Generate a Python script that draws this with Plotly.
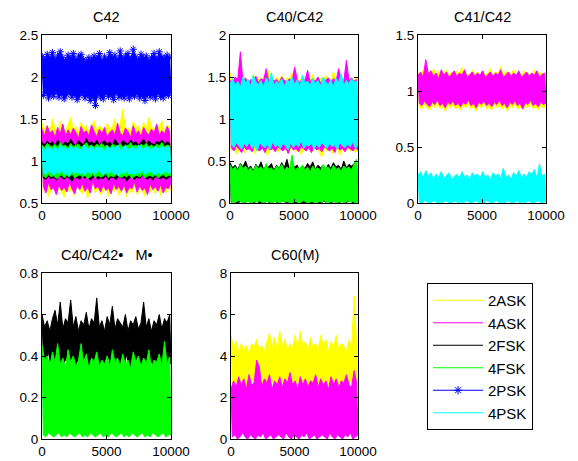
import numpy as np
import plotly.graph_objects as go

# ---------------- data (envelope peaks / troughs) ----------------
series_names = ["2ASK", "4ASK", "2FSK", "4FSK", "2PSK", "4PSK"]
x_max = 10000
x_ticks = [0, 5000, 10000]
x_tick_labels = ["0", "5000", "10000"]
titles = ["C42", "C40/C42", "C41/C42", "C40/C42•   M•", "C60(M)"]

# C42
c42_2ask_hi = [1.45,1.38,1.42,1.35,1.50,1.40,1.33,1.47,1.39,1.36,1.44,1.52,1.37,1.41,1.34,1.46,1.38,1.43,1.35,1.40,1.48,1.36,1.42,1.39,1.33,1.45,1.37,1.41,1.50,1.36,1.44,1.62,1.38,1.40,1.35,1.47,1.39,1.42,1.34,1.46,1.37,1.52,1.41,1.36,1.44,1.39,1.48,1.35,1.43,1.40]
c42_2ask_lo = [0.62,0.70,0.58,0.66,0.73,0.60,0.68,0.64,0.57,0.71,0.63,0.67,0.59,0.72,0.65,0.61,0.69,0.56,0.66,0.74,0.62,0.68,0.60,0.64,0.70,0.58,0.67,0.63,0.71,0.59,0.65,0.69,0.57,0.66,0.62,0.72,0.60,0.68,0.64,0.58,0.70,0.63,0.67,0.61,0.73,0.59,0.66,0.62,0.69,0.64]
c42_4ask_hi = [1.38,1.30,1.42,1.33,1.36,1.28,1.40,1.32,1.44,1.29,1.37,1.31,1.39,1.34,1.27,1.41,1.33,1.36,1.30,1.43,1.35,1.29,1.38,1.32,1.40,1.28,1.34,1.37,1.31,1.45,1.33,1.30,1.39,1.35,1.28,1.42,1.32,1.36,1.29,1.40,1.34,1.31,1.38,1.33,1.44,1.30,1.36,1.32,1.41,1.35]
c42_4ask_lo = [0.70,0.62,0.74,0.66,0.68,0.60,0.72,0.65,0.69,0.63,0.75,0.67,0.61,0.71,0.66,0.73,0.64,0.69,0.62,0.76,0.67,0.70,0.63,0.72,0.65,0.68,0.61,0.74,0.66,0.70,0.64,0.72,0.62,0.69,0.67,0.75,0.63,0.71,0.65,0.68,0.60,0.73,0.66,0.70,0.64,0.72,0.62,0.69,0.67,0.74]
c42_2fsk_hi = [1.22,1.19,1.24,1.20,1.23,1.18,1.25,1.21,1.19,1.23,1.20,1.26,1.21,1.18,1.24,1.22,1.19,1.27,1.21,1.23,1.20,1.25,1.19,1.22,1.24,1.20,1.23,1.18,1.26,1.21,1.19,1.24,1.22,1.20,1.25,1.21,1.23,1.19,1.22,1.26,1.20,1.24,1.21,1.19,1.23,1.22,1.25,1.20,1.23,1.21]
c42_2fsk_lo = [0.80,0.78,0.82,0.79,0.81,0.77,0.83,0.80,0.78,0.82,0.79,0.76,0.81,0.80,0.78,0.83,0.79,0.81,0.77,0.80,0.82,0.78,0.80,0.79,0.83,0.77,0.81,0.80,0.78,0.82,0.79,0.81,0.76,0.80,0.82,0.78,0.81,0.79,0.83,0.80,0.78,0.81,0.77,0.82,0.80,0.79,0.81,0.78,0.80,0.82]
c42_4fsk_hi = [1.19,1.16,1.21,1.18,1.17,1.20,1.16,1.22,1.18,1.19,1.15,1.21,1.17,1.19,1.20,1.16,1.18,1.22,1.17,1.19,1.16,1.20,1.18,1.21,1.17,1.19,1.15,1.20,1.18,1.17,1.21,1.16,1.19,1.18,1.22,1.17,1.19,1.16,1.20,1.18,1.21,1.17,1.19,1.16,1.20,1.18,1.22,1.17,1.19,1.18]
c42_4fsk_lo = [0.82,0.80,0.84,0.81,0.83,0.79,0.82,0.84,0.80,0.83,0.81,0.85,0.80,0.82,0.84,0.81,0.83,0.79,0.82,0.84,0.80,0.83,0.81,0.82,0.85,0.80,0.83,0.81,0.84,0.82,0.80,0.83,0.81,0.84,0.79,0.82,0.83,0.81,0.84,0.80,0.82,0.83,0.81,0.85,0.80,0.82,0.84,0.81,0.83,0.82]
c42_2psk_hi = [2.24,2.20,2.27,2.22,2.29,2.21,2.25,2.30,2.23,2.19,2.26,2.22,2.28,2.20,2.24,2.27,2.21,2.18,2.23,2.20,2.25,2.22,2.28,2.19,2.24,2.21,2.29,2.23,2.26,2.20,2.31,2.22,2.25,2.28,2.21,2.33,2.24,2.20,2.27,2.22,2.25,2.19,2.23,2.28,2.21,2.30,2.24,2.22,2.26,2.23]
c42_2psk_lo = [1.78,1.82,1.75,1.80,1.77,1.83,1.76,1.81,1.74,1.79,1.82,1.76,1.80,1.73,1.78,1.81,1.75,1.79,1.72,1.77,1.66,1.80,1.76,1.74,1.81,1.77,1.79,1.73,1.82,1.76,1.78,1.75,1.80,1.74,1.79,1.77,1.81,1.75,1.78,1.72,1.80,1.76,1.79,1.74,1.81,1.77,1.75,1.80,1.78,1.82]
c42_4psk_hi = [1.16,1.13,1.18,1.15,1.14,1.17,1.12,1.19,1.15,1.16,1.13,1.18,1.14,1.17,1.15,1.13,1.19,1.16,1.14,1.18,1.13,1.17,1.15,1.16,1.12,1.18,1.14,1.17,1.15,1.19,1.13,1.16,1.18,1.14,1.15,1.17,1.13,1.19,1.16,1.14,1.18,1.15,1.13,1.17,1.16,1.14,1.18,1.15,1.17,1.16]
c42_4psk_lo = [0.86,0.84,0.88,0.85,0.83,0.87,0.85,0.89,0.84,0.86,0.82,0.88,0.85,0.87,0.84,0.86,0.83,0.88,0.85,0.87,0.84,0.89,0.86,0.83,0.87,0.85,0.88,0.84,0.86,0.82,0.87,0.85,0.88,0.84,0.86,0.83,0.87,0.85,0.89,0.84,0.86,0.88,0.85,0.83,0.87,0.84,0.86,0.88,0.85,0.86]

# C40/C42
c40_2ask_hi = [1.55,1.45,1.50,1.42,1.48,1.52,1.44,1.47,1.41,1.53,1.46,1.49,1.43,1.51,1.45,1.58,1.48,1.44,1.50,1.46,1.52,1.43,1.49,1.47,1.55,1.42,1.48,1.45,1.51,1.44,1.50,1.47,1.53,1.43,1.46,1.49,1.45,1.52,1.48,1.44,1.57,1.46,1.50,1.43,1.48,1.51,1.45,1.49,1.47,1.50]
c40_2ask_lo = [0.62,0.66,0.58,0.64,0.68,0.60,0.65,0.63,0.67,0.59,0.64,0.62,0.66,0.61,0.57,0.65,0.63,0.68,0.60,0.64,0.62,0.66,0.59,0.63,0.67,0.61,0.65,0.58,0.64,0.62,0.66,0.60,0.63,0.67,0.61,0.55,0.64,0.62,0.66,0.59,0.63,0.65,0.57,0.64,0.61,0.66,0.62,0.64,0.60,0.63]
c40_4ask_hi = [1.46,1.43,1.50,1.47,1.80,1.44,1.49,1.42,1.47,1.45,1.51,1.43,1.48,1.46,1.60,1.44,1.49,1.45,1.47,1.43,1.50,1.46,1.44,1.48,1.45,1.62,1.47,1.43,1.49,1.46,1.58,1.44,1.48,1.45,1.50,1.43,1.47,1.46,1.49,1.44,1.48,1.45,1.60,1.47,1.44,1.70,1.46,1.49,1.45,1.47]
c40_4ask_lo = [0.66,0.62,0.68,0.64,0.60,0.67,0.63,0.65,0.61,0.69,0.64,0.62,0.66,0.60,0.68,0.63,0.65,0.61,0.67,0.64,0.62,0.66,0.59,0.68,0.63,0.65,0.61,0.67,0.64,0.62,0.66,0.60,0.68,0.63,0.65,0.61,0.67,0.64,0.62,0.66,0.60,0.68,0.63,0.65,0.61,0.67,0.64,0.62,0.66,0.63]
c40_2fsk_hi = [0.48,0.42,0.45,0.40,0.47,0.43,0.50,0.41,0.44,0.38,0.46,0.42,0.49,0.40,0.44,0.43,0.47,0.39,0.45,0.41,0.48,0.42,0.52,0.40,0.46,0.43,0.45,0.38,0.44,0.41,0.47,0.43,0.49,0.40,0.45,0.42,0.44,0.39,0.46,0.41,0.48,0.43,0.45,0.40,0.50,0.42,0.46,0.44,0.47,0.45]
c40_2fsk_lo = [0.01,0.02,0.00,0.01,0.02,0.00,0.01,0.03,0.00,0.01,0.02,0.00,0.01,0.01,0.02,0.00,0.01,0.02,0.00,0.01,0.03,0.00,0.01,0.02,0.01,0.00,0.02,0.01,0.00,0.01,0.02,0.00,0.01,0.03,0.00,0.01,0.02,0.00,0.01,0.01,0.02,0.00,0.01,0.02,0.00,0.01,0.03,0.00,0.01,0.02]
c40_4fsk_hi = [0.45,0.40,0.43,0.38,0.46,0.41,0.44,0.39,0.42,0.37,0.45,0.41,0.43,0.39,0.47,0.40,0.42,0.38,0.44,0.41,0.46,0.39,0.43,0.40,0.57,0.38,0.42,0.41,0.45,0.39,0.43,0.37,0.44,0.40,0.42,0.38,0.46,0.41,0.43,0.39,0.45,0.40,0.42,0.38,0.44,0.41,0.43,0.39,0.47,0.52]
c40_4fsk_lo = [0.02,0.00,0.01,0.03,0.01,0.00,0.02,0.01,0.00,0.02,0.01,0.03,0.00,0.01,0.02,0.01,0.00,0.02,0.01,0.00,0.03,0.01,0.02,0.00,0.01,0.02,0.00,0.01,0.03,0.01,0.00,0.02,0.01,0.00,0.02,0.01,0.03,0.00,0.01,0.02,0.01,0.00,0.02,0.01,0.00,0.03,0.01,0.02,0.00,0.01]
c40_4psk_hi = [1.42,1.48,1.40,1.45,1.38,1.50,1.43,1.47,1.39,1.52,1.44,1.41,1.46,1.38,1.49,1.43,1.55,1.40,1.45,1.42,1.48,1.39,1.46,1.44,1.50,1.41,1.47,1.38,1.52,1.43,1.45,1.40,1.48,1.42,1.46,1.39,1.50,1.44,1.41,1.47,1.38,1.49,1.43,1.54,1.40,1.46,1.42,1.48,1.44,1.45]
c40_4psk_lo = [0.70,0.66,0.72,0.68,0.64,0.71,0.67,0.73,0.65,0.69,0.62,0.72,0.68,0.66,0.70,0.64,0.73,0.67,0.69,0.65,0.71,0.68,0.63,0.72,0.66,0.70,0.67,0.74,0.65,0.69,0.68,0.71,0.64,0.70,0.66,0.72,0.68,0.65,0.71,0.67,0.69,0.64,0.72,0.68,0.66,0.70,0.67,0.73,0.65,0.69]

# C41/C42
c41_2ask_hi = [1.16,1.12,1.19,1.14,1.17,1.13,1.20,1.15,1.18,1.12,1.16,1.19,1.14,1.17,1.13,1.18,1.15,1.21,1.14,1.16,1.12,1.19,1.15,1.17,1.13,1.18,1.14,1.16,1.20,1.13,1.17,1.15,1.22,1.14,1.18,1.12,1.16,1.19,1.14,1.17,1.13,1.18,1.15,1.16,1.12,1.19,1.14,1.17,1.15,1.16]
c41_2ask_lo = [0.86,0.84,0.88,0.85,0.83,0.87,0.85,0.89,0.84,0.86,0.82,0.87,0.85,0.88,0.84,0.86,0.83,0.87,0.85,0.88,0.84,0.86,0.82,0.87,0.85,0.89,0.84,0.86,0.83,0.88,0.85,0.87,0.84,0.86,0.82,0.87,0.85,0.88,0.84,0.86,0.83,0.87,0.85,0.89,0.84,0.86,0.83,0.87,0.85,0.86]
c41_4ask_hi = [1.14,1.17,1.12,1.28,1.15,1.18,1.13,1.16,1.11,1.19,1.14,1.17,1.12,1.15,1.18,1.13,1.16,1.14,1.19,1.12,1.15,1.17,1.13,1.16,1.14,1.18,1.12,1.15,1.17,1.13,1.16,1.14,1.19,1.12,1.15,1.17,1.13,1.16,1.14,1.18,1.12,1.15,1.17,1.13,1.16,1.14,1.18,1.12,1.15,1.16]
c41_4ask_lo = [0.89,0.87,0.91,0.88,0.86,0.90,0.88,0.92,0.87,0.89,0.85,0.90,0.88,0.91,0.87,0.89,0.86,0.90,0.88,0.92,0.87,0.89,0.85,0.90,0.88,0.91,0.87,0.89,0.86,0.90,0.88,0.92,0.87,0.89,0.85,0.90,0.88,0.91,0.87,0.89,0.84,0.90,0.88,0.92,0.87,0.89,0.86,0.90,0.88,0.89]
c41_4psk_hi = [0.25,0.28,0.22,0.29,0.24,0.27,0.21,0.26,0.23,0.28,0.22,0.25,0.27,0.21,0.24,0.26,0.22,0.28,0.23,0.25,0.21,0.27,0.24,0.26,0.22,0.28,0.23,0.25,0.21,0.27,0.24,0.26,0.22,0.31,0.23,0.25,0.21,0.27,0.24,0.29,0.22,0.26,0.23,0.28,0.25,0.30,0.22,0.35,0.24,0.26]
c41_4psk_lo = [0.01,0.00,0.02,0.01,0.00,0.01,0.02,0.00,0.01,0.00,0.02,0.01,0.00,0.01,0.02,0.00,0.01,0.00,0.02,0.01,0.00,0.01,0.02,0.00,0.01,0.00,0.02,0.01,0.00,0.01,0.02,0.00,0.01,0.00,0.02,0.01,0.00,0.01,0.02,0.00,0.01,0.00,0.02,0.01,0.00,0.01,0.02,0.00,0.01,0.01]

# C40/C42 (M)
c40m_2fsk_hi = [0.60,0.54,0.57,0.52,0.58,0.62,0.55,0.66,0.53,0.58,0.56,0.67,0.54,0.59,0.52,0.57,0.55,0.61,0.53,0.58,0.56,0.68,0.54,0.57,0.52,0.59,0.55,0.64,0.53,0.58,0.56,0.54,0.60,0.52,0.57,0.55,0.59,0.53,0.56,0.66,0.54,0.58,0.52,0.57,0.55,0.60,0.53,0.58,0.56,0.60]
c40m_2fsk_lo = [0.40,0.36,0.42,0.34,0.38,0.35,0.41,0.33,0.37,0.39,0.34,0.40,0.36,0.32,0.38,0.35,0.41,0.33,0.37,0.34,0.39,0.36,0.32,0.38,0.35,0.40,0.33,0.37,0.34,0.31,0.38,0.35,0.41,0.33,0.36,0.39,0.34,0.37,0.35,0.40,0.33,0.38,0.36,0.34,0.39,0.35,0.37,0.33,0.38,0.36]
c40m_4fsk_hi = [0.45,0.38,0.40,0.35,0.42,0.37,0.46,0.36,0.39,0.34,0.43,0.37,0.40,0.35,0.38,0.46,0.36,0.41,0.34,0.39,0.37,0.42,0.35,0.38,0.36,0.40,0.34,0.43,0.37,0.39,0.35,0.41,0.36,0.38,0.34,0.42,0.37,0.40,0.35,0.39,0.36,0.43,0.34,0.38,0.37,0.41,0.35,0.47,0.36,0.40]
c40m_4fsk_lo = [0.02,0.01,0.03,0.02,0.01,0.02,0.03,0.01,0.02,0.01,0.03,0.02,0.01,0.02,0.03,0.01,0.02,0.01,0.03,0.02,0.01,0.02,0.03,0.01,0.02,0.01,0.03,0.02,0.01,0.02,0.03,0.01,0.02,0.01,0.03,0.02,0.01,0.02,0.03,0.01,0.02,0.01,0.03,0.02,0.01,0.02,0.03,0.01,0.02,0.02]

# C60(M)
c60_2ask_hi = [5.0,4.4,4.7,4.2,4.6,4.3,4.5,4.1,4.6,4.4,4.8,4.3,4.5,4.2,4.7,5.1,4.4,4.9,4.3,5.2,4.5,4.8,4.2,4.6,4.4,5.0,4.3,5.2,4.5,4.7,4.2,4.9,4.4,4.6,4.3,5.0,4.5,4.8,4.2,4.7,4.4,5.0,4.3,4.6,4.5,4.2,4.8,4.4,6.9,4.5]
c60_2ask_lo = [2.7,2.5,2.9,2.6,2.8,2.4,2.7,2.6,2.9,2.5,2.8,2.6,2.7,2.4,2.9,2.6,2.8,2.5,2.7,2.6,2.9,2.4,2.8,2.6,2.7,2.5,2.9,2.6,2.8,2.4,2.7,2.6,2.9,2.5,2.8,2.6,2.7,2.4,2.9,2.6,2.8,2.5,2.7,2.6,2.9,2.4,2.8,2.6,2.7,2.6]
c60_4ask_hi = [2.4,2.8,2.5,3.0,2.6,2.9,2.4,3.1,2.6,2.7,3.8,3.5,2.5,2.9,2.7,3.1,2.4,2.8,2.6,3.0,2.5,2.9,2.7,3.2,2.6,2.8,2.4,3.0,2.6,2.9,2.5,2.8,2.7,3.1,2.5,2.9,2.6,2.8,2.4,3.0,2.6,2.9,2.5,2.8,2.7,3.1,2.6,2.5,3.3,2.7]
c60_4ask_lo = [0.1,0.2,0.0,0.1,0.3,0.1,0.0,0.2,0.1,0.0,0.2,0.1,0.3,0.0,0.1,0.2,0.0,0.1,0.2,0.1,0.0,0.3,0.1,0.0,0.2,0.1,0.0,0.2,0.1,0.3,0.0,0.1,0.2,0.0,0.1,0.2,0.1,0.0,0.3,0.1,0.0,0.2,0.1,0.0,0.2,0.1,0.3,0.0,0.1,0.2]

y_ranges = [[0.5, 2.5], [0, 2], [0, 1.5], [0, 0.8], [0, 8]]
y_dticks = [0.5, 0.5, 0.5, 0.2, 2]

# ---------------- styling ----------------
colors = {"2ASK": "#ffff00", "4ASK": "#ff00ff", "2FSK": "#000000",
          "4FSK": "#00ff00", "2PSK": "#0000ff", "4PSK": "#00ffff"}
OFF = 8                      # page body margin of the html page
W, H = 578 - OFF, 461 - OFF  # figure size so that it fills the window
FONT = "Liberation Sans, Arial, Helvetica, sans-serif"

# axes boxes in window pixels: (left, right, top, bottom)
boxes = [(42, 171, 35, 203), (230, 358, 35, 203), (418, 546, 35, 203),
         (42, 171, 273, 439), (231, 358, 273, 439)]


def fx(px):
    return (px - OFF) / W


def fy(py):
    return 1 - (py - OFF) / H


panels = [
    [("2ASK", c42_2ask_hi, c42_2ask_lo), ("4ASK", c42_4ask_hi, c42_4ask_lo),
     ("2FSK", c42_2fsk_hi, c42_2fsk_lo), ("4FSK", c42_4fsk_hi, c42_4fsk_lo),
     ("2PSK", c42_2psk_hi, c42_2psk_lo), ("4PSK", c42_4psk_hi, c42_4psk_lo)],
    [("2ASK", c40_2ask_hi, c40_2ask_lo), ("4ASK", c40_4ask_hi, c40_4ask_lo),
     ("2FSK", c40_2fsk_hi, c40_2fsk_lo), ("4FSK", c40_4fsk_hi, c40_4fsk_lo),
     ("4PSK", c40_4psk_hi, c40_4psk_lo)],
    [("2ASK", c41_2ask_hi, c41_2ask_lo), ("4ASK", c41_4ask_hi, c41_4ask_lo),
     ("4PSK", c41_4psk_hi, c41_4psk_lo)],
    [("2FSK", c40m_2fsk_hi, c40m_2fsk_lo), ("4FSK", c40m_4fsk_hi, c40m_4fsk_lo)],
    [("2ASK", c60_2ask_hi, c60_2ask_lo), ("4ASK", c60_4ask_hi, c60_4ask_lo)],
]


def band(hi, lo):
    """Dense noisy trace drawn as its envelope: peaks left->right, troughs back."""
    n = min(len(hi), len(lo))
    xs = np.linspace(1, x_max, 2 * n)
    x_hi, x_lo = list(xs[0::2]), list(xs[1::2])
    return x_hi + x_lo[::-1] + [x_hi[0]], list(hi[:n]) + list(lo[:n])[::-1] + [hi[0]]


fig = go.Figure()
for i, traces in enumerate(panels):
    ax = "" if i == 0 else str(i + 1)
    for name, hi, lo in traces:
        xs, ys = band(hi, lo)
        kw = dict(x=xs, y=ys, name=name, xaxis="x" + ax, yaxis="y" + ax,
                  legendgroup=name, showlegend=False, hoverinfo="skip",
                  fill="toself", fillcolor=colors[name],
                  line=dict(color=colors[name], width=1))
        if name == "2PSK":
            kw["mode"] = "lines+markers"
            kw["marker"] = dict(symbol="asterisk-open", size=6, color=colors[name],
                                line=dict(color=colors[name], width=1))
        else:
            kw["mode"] = "lines"
        fig.add_trace(go.Scatter(**kw))

# legend entries (line samples)
for name in series_names:
    kw = dict(x=[None], y=[None], name=name, legendgroup=name, showlegend=True,
              line=dict(color=colors[name], width=1), mode="lines")
    if name == "2PSK":
        kw["mode"] = "lines+markers"
        kw["marker"] = dict(symbol="asterisk-open", size=7, color=colors[name],
                            line=dict(color=colors[name], width=1))
    fig.add_trace(go.Scatter(**kw))

layout = dict(width=W, height=H, margin=dict(l=0, r=0, t=0, b=0, autoexpand=False),
              paper_bgcolor="white", plot_bgcolor="white",
              font=dict(family=FONT, size=13.5, color="black"),
              legend=dict(x=fx(427), y=fy(283), xanchor="left", yanchor="top",
                          bordercolor="black", borderwidth=1, bgcolor="white",
                          font=dict(size=15), tracegroupgap=1, itemwidth=50,
                          traceorder="normal"),
              annotations=[])
axis_common = dict(showline=True, linecolor="black", linewidth=1, mirror="ticks",
                   ticks="inside", ticklen=4, tickcolor="black", showgrid=False,
                   zeroline=False, automargin=False,
                   tickfont=dict(size=13.5, family=FONT))
for i, (l, r, t, b) in enumerate(boxes):
    ax = "" if i == 0 else str(i + 1)
    layout["xaxis" + ax] = dict(axis_common, domain=[fx(l), fx(r)], range=[0, x_max],
                                tickvals=x_ticks, ticktext=x_tick_labels,
                                anchor="y" + ax)
    layout["yaxis" + ax] = dict(axis_common, domain=[fy(b), fy(t)],
                                range=y_ranges[i], dtick=y_dticks[i], tick0=0,
                                anchor="x" + ax)
    layout["annotations"].append(dict(text=titles[i], x=fx((l + r) / 2),
                                      y=fy(t - 18), xref="paper", yref="paper",
                                      xanchor="center", yanchor="middle",
                                      showarrow=False, font=dict(size=14.5, family=FONT)))
fig.update_layout(**layout)
fig.write_html("out.html")
